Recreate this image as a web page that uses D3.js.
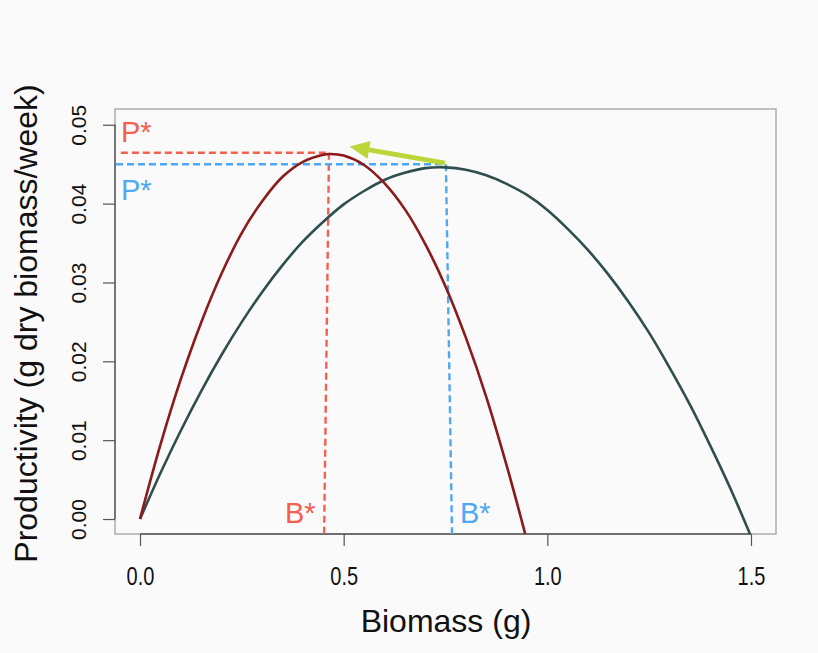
<!DOCTYPE html>
<html>
<head>
<meta charset="utf-8">
<script src="https://cdn.jsdelivr.net/npm/d3@7/dist/d3.min.js"></script>
<style>
  html, body { margin: 0; padding: 0; background: #fafafa; }
  svg { display: block; }
  text { font-family: "Liberation Sans", Arial, Helvetica, sans-serif; }
</style>
</head>
<body>
<svg id="chart" width="818" height="653"></svg>
<script>
// ---- data ----
const biomassRed = [0, 0.05, 0.10, 0.15, 0.20, 0.25, 0.30, 0.35, 0.40, 0.45, 0.468, 0.50, 0.55, 0.60, 0.65, 0.70, 0.75, 0.80, 0.85, 0.90, 0.936, 0.95];
const prodRed    = [0, 0.0094, 0.0177, 0.0249, 0.0311, 0.0363, 0.0403, 0.0434, 0.0453, 0.0462, 0.0463, 0.0461, 0.0449, 0.0426, 0.0393, 0.0349, 0.0295, 0.0230, 0.0155, 0.0068, 0.0, -0.0028];

const biomassGreen = [0, 0.05, 0.10, 0.15, 0.20, 0.25, 0.30, 0.35, 0.40, 0.45, 0.50, 0.55, 0.60, 0.65, 0.70, 0.75, 0.80, 0.85, 0.90, 0.95, 1.00, 1.05, 1.10, 1.15, 1.20, 1.25, 1.30, 1.35, 1.40, 1.45, 1.50];
const prodGreen    = [0, 0.0058, 0.0112, 0.0162, 0.0208, 0.0250, 0.0288, 0.0322, 0.0352, 0.0377, 0.0399, 0.0416, 0.0430, 0.0439, 0.0445, 0.0446, 0.0443, 0.0436, 0.0425, 0.0411, 0.0392, 0.0368, 0.0341, 0.0310, 0.0275, 0.0236, 0.0192, 0.0145, 0.0093, 0.0038, -0.0022];

const xTicks = [0, 0.5, 1.0, 1.5];
const yTicks = [0.00, 0.01, 0.02, 0.03, 0.04, 0.05];

// optimum markers: [B*, P*]
const optimumRed   = [0.464, 0.04645];
const optimumGreen = [0.751, 0.04499];
// dashed guide ends (B at plot bottom, B at left end of horizontal)
const redGuideBottomB = 0.452, redGuideLeftB = -0.047;
const greenGuideBottomB = 0.766, greenGuideLeftB = -0.059;
// arrow (tail -> tip) in data units
const arrowTail = [0.749, 0.04514];
const arrowTip  = [0.514, 0.04725];

const xLabel = "Biomass (g)";
const yLabel = "Productivity (g dry biomass/week)";

// ---- scales ----
const xDomain = [-0.0614, 1.5614];
const yDomain = [-0.0019, 0.0520];
const box = { left: 115, right: 776, top: 109, bottom: 534 };

const x = d3.scaleLinear().domain(xDomain).range([box.left, box.right]);
const y = d3.scaleLinear().domain(yDomain).range([box.bottom, box.top]);

const svg = d3.select("#chart");
svg.append("rect").attr("width", 818).attr("height", 653).attr("fill", "#fafafa");

svg.append("defs").append("clipPath").attr("id", "plotclip")
  .append("rect").attr("x", box.left).attr("y", box.top)
  .attr("width", box.right - box.left).attr("height", box.bottom - box.top);

// box
svg.append("rect")
  .attr("x", box.left).attr("y", box.top)
  .attr("width", box.right - box.left).attr("height", box.bottom - box.top)
  .attr("fill", "none").attr("stroke", "#9a9a9a").attr("stroke-width", 1.2);

// x axis
const xAxisG = svg.append("g").attr("transform", `translate(0,${box.bottom})`)
  .call(d3.axisBottom(x).tickValues(xTicks).tickFormat(d3.format(".1f")).tickSize(12).tickSizeOuter(0));
xAxisG.select(".domain").remove();
xAxisG.selectAll(".tick line").attr("stroke", "#555").attr("stroke-width", 1.2);
xAxisG.selectAll(".tick text")
  .attr("font-size", 20).attr("fill", "#111").attr("font-family", "Liberation Sans, Arial, sans-serif")
  .attr("y", 0).attr("dy", "0.36em")
  .attr("transform", "translate(0,42) scale(1,1.25)");
svg.append("line")
  .attr("x1", x(xTicks[0])).attr("x2", x(xTicks[xTicks.length - 1]))
  .attr("y1", box.bottom).attr("y2", box.bottom)
  .attr("stroke", "#555").attr("stroke-width", 1.4);

// y axis
const yAxisG = svg.append("g").attr("transform", `translate(${box.left},0)`)
  .call(d3.axisLeft(y).tickValues(yTicks).tickFormat(d3.format(".2f")).tickSize(12).tickSizeOuter(0));
yAxisG.select(".domain").remove();
yAxisG.selectAll(".tick line").attr("stroke", "#555").attr("stroke-width", 1.2);
yAxisG.selectAll(".tick text")
  .attr("font-size", 21).attr("fill", "#111").attr("font-family", "Liberation Sans, Arial, sans-serif")
  .attr("x", 0)
  .attr("text-anchor", "middle")
  .attr("transform", "translate(-37,0) rotate(-90)")
  .attr("dy", "0.36em");
svg.append("line")
  .attr("x1", box.left).attr("x2", box.left)
  .attr("y1", y(yTicks[0])).attr("y2", y(yTicks[yTicks.length - 1]))
  .attr("stroke", "#555").attr("stroke-width", 1.4);

// axis titles
svg.append("text").attr("x", 446).attr("y", 632).attr("text-anchor", "middle")
  .attr("font-size", 32).attr("fill", "#111").text(xLabel);
svg.append("text").attr("transform", `translate(37,${(box.top + box.bottom) / 2 + 2}) rotate(-90)`)
  .attr("text-anchor", "middle").attr("font-size", 32).attr("fill", "#111").text(yLabel);

const plot = svg.append("g").attr("clip-path", "url(#plotclip)");

// dashed guides
const redDash = "#f4604f", blueDash = "#4ea8f4";
const dash = "7,4";
plot.append("line").attr("x1", x(redGuideLeftB)).attr("x2", x(optimumRed[0]))
  .attr("y1", y(optimumRed[1])).attr("y2", y(optimumRed[1]))
  .attr("stroke", redDash).attr("stroke-width", 2.4).attr("stroke-dasharray", dash);
plot.append("line").attr("x1", x(optimumRed[0])).attr("x2", x(redGuideBottomB))
  .attr("y1", y(optimumRed[1])).attr("y2", y(yDomain[0]))
  .attr("stroke", redDash).attr("stroke-width", 2.4).attr("stroke-dasharray", dash);
plot.append("line").attr("x1", x(greenGuideLeftB)).attr("x2", x(optimumGreen[0]))
  .attr("y1", y(optimumGreen[1])).attr("y2", y(optimumGreen[1]))
  .attr("stroke", blueDash).attr("stroke-width", 2.4).attr("stroke-dasharray", dash);
plot.append("line").attr("x1", x(optimumGreen[0])).attr("x2", x(greenGuideBottomB))
  .attr("y1", y(optimumGreen[1])).attr("y2", y(yDomain[0]))
  .attr("stroke", blueDash).attr("stroke-width", 2.4).attr("stroke-dasharray", dash);

// curves
const line = d3.line().x(d => x(d[0])).y(d => y(d[1])).curve(d3.curveCatmullRom.alpha(0.5));
plot.append("path").datum(biomassGreen.map((b, i) => [b, prodGreen[i]]))
  .attr("d", line).attr("fill", "none").attr("stroke", "#2f4f4f").attr("stroke-width", 2.6);
plot.append("path").datum(biomassRed.map((b, i) => [b, prodRed[i]]))
  .attr("d", line).attr("fill", "none").attr("stroke", "#8b1a1a").attr("stroke-width", 2.6);

// arrow
const arrowColor = "#bcd63a";
const tx = x(arrowTail[0]), ty = y(arrowTail[1]);
const hx = x(arrowTip[0]), hy = y(arrowTip[1]);
const ang = Math.atan2(hy - ty, hx - tx);
const headLen = 20, headHalf = 9;
const bx = hx - headLen * Math.cos(ang), by = hy - headLen * Math.sin(ang);
svg.append("line").attr("x1", tx).attr("y1", ty).attr("x2", bx).attr("y2", by)
  .attr("stroke", arrowColor).attr("stroke-width", 5);
svg.append("path")
  .attr("d", `M${hx},${hy} L${bx + headHalf * Math.sin(ang)},${by - headHalf * Math.cos(ang)} L${bx - headHalf * Math.sin(ang)},${by + headHalf * Math.cos(ang)} Z`)
  .attr("fill", arrowColor);

// labels
svg.append("text").attr("x", 121).attr("y", 142).attr("font-size", 29).attr("fill", redDash).text("P*");
svg.append("text").attr("x", 121).attr("y", 200).attr("font-size", 29).attr("fill", blueDash).text("P*");
svg.append("text").attr("x", 285).attr("y", 523).attr("font-size", 29).attr("fill", redDash).text("B*");
svg.append("text").attr("x", 460).attr("y", 523).attr("font-size", 29).attr("fill", blueDash).text("B*");
</script>
</body>
</html>
